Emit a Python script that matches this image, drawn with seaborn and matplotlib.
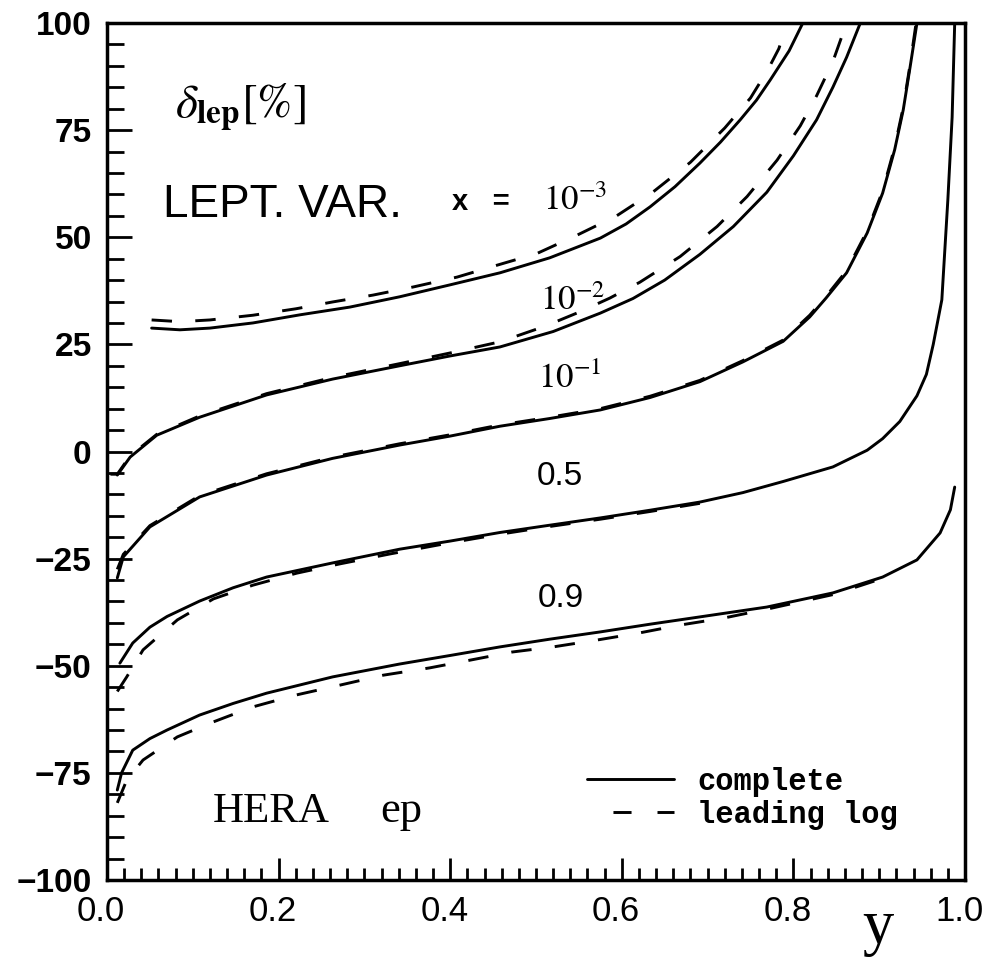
import matplotlib
matplotlib.use("Agg")
import matplotlib.pyplot as plt
import matplotlib.transforms as mtransforms
import seaborn as sns
import pandas as pd
from matplotlib.ticker import MultipleLocator

# ---------------- data ----------------
# x = 1e-3
x3_complete = [0.052, 0.085, 0.12, 0.17, 0.225, 0.283, 0.341, 0.40, 0.458, 0.516, 0.575, 0.605, 0.633, 0.662, 0.691, 0.715, 0.738, 0.757, 0.773, 0.795, 0.811]
d3_complete = [28.8, 28.4, 28.8, 30.0, 31.9, 33.7, 36.1, 38.9, 41.7, 45.2, 49.8, 53.1, 57.1, 61.8, 67.3, 72.2, 77.4, 82.0, 86.7, 93.5, 100.0]
x3_ll = [0.052, 0.085, 0.12, 0.17, 0.22, 0.263, 0.31, 0.357, 0.408, 0.455, 0.501, 0.548, 0.594, 0.636, 0.68, 0.72, 0.75, 0.77, 0.783, 0.793]
d3_ll = [30.7, 30.3, 30.7, 31.8, 33.3, 34.9, 36.5, 38.4, 40.7, 43.5, 46.2, 50.5, 55.0, 60.5, 67.5, 75.5, 82.5, 89.0, 94.0, 100.0]

# x = 1e-2
x2_complete = [0.012, 0.027, 0.058, 0.108, 0.186, 0.263, 0.341, 0.40, 0.458, 0.52, 0.575, 0.613, 0.65, 0.691, 0.73, 0.769, 0.80, 0.827, 0.846, 0.862, 0.878]
d2_complete = [-5.5, -1.3, 3.8, 8.0, 13.2, 16.9, 20.0, 22.3, 24.4, 28.0, 32.3, 35.7, 40.0, 46.0, 52.5, 60.5, 69.0, 77.4, 85.0, 92.0, 100.0]
x2_ll = [0.004, 0.012, 0.027, 0.058, 0.108, 0.186, 0.263, 0.341, 0.40, 0.458, 0.51, 0.55, 0.586, 0.621, 0.668, 0.711, 0.746, 0.781, 0.808, 0.827, 0.846, 0.862]
d2_ll = [-5.3, -5.3, -1.0, 4.0, 8.3, 13.5, 17.3, 20.5, 23.0, 25.6, 29.2, 32.5, 35.8, 39.5, 45.5, 52.5, 59.5, 68.0, 76.0, 83.0, 91.0, 100.0]

# x = 1e-1
x1_complete = [0.012, 0.019, 0.05, 0.108, 0.186, 0.263, 0.341, 0.40, 0.458, 0.516, 0.575, 0.633, 0.691, 0.741, 0.788, 0.819, 0.838, 0.862, 0.886, 0.904, 0.918, 0.928, 0.936, 0.944]
d1_complete = [-29.5, -24.6, -17.6, -10.6, -5.5, -1.6, 1.5, 3.6, 5.9, 7.7, 9.7, 12.6, 16.3, 20.9, 25.7, 31.4, 35.8, 41.7, 51.0, 60.3, 70.4, 79.7, 89.7, 100.0]
x1_ll = [0.012, 0.019, 0.05, 0.108, 0.186, 0.263, 0.341, 0.40, 0.458, 0.516, 0.575, 0.633, 0.691, 0.741, 0.788, 0.819, 0.838, 0.862, 0.886, 0.904, 0.918, 0.928, 0.936, 0.943]
d1_ll = [-27.5, -24.0, -17.3, -10.3, -5.2, -1.3, 1.8, 3.9, 6.2, 8.0, 10.0, 12.9, 16.6, 21.2, 26.0, 31.8, 36.2, 42.2, 51.5, 60.8, 71.0, 80.3, 90.3, 100.0]

# x = 0.5
x5_complete = [0.015, 0.03, 0.05, 0.07, 0.108, 0.147, 0.186, 0.263, 0.341, 0.40, 0.458, 0.516, 0.575, 0.633, 0.691, 0.741, 0.788, 0.846, 0.886, 0.904, 0.924, 0.944, 0.955, 0.963, 0.973, 0.980, 0.985, 0.988]
d5_complete = [-49.4, -44.7, -41.0, -38.5, -34.9, -31.8, -29.3, -26.0, -22.8, -20.9, -18.9, -17.2, -15.5, -13.7, -11.8, -9.6, -7.0, -3.6, 0.3, 3.0, 7.0, 13.0, 18.0, 25.0, 35.4, 58.7, 78.0, 100.0]
x5_ll = [0.012, 0.023, 0.042, 0.082, 0.124, 0.17, 0.221, 0.272, 0.33, 0.40, 0.458, 0.516, 0.575, 0.633, 0.691]
d5_ll = [-56.0, -52.6, -46.3, -39.3, -34.4, -31.2, -28.4, -26.2, -23.9, -21.3, -19.3, -17.5, -15.8, -14.0, -12.1]

# x = 0.9
x9_complete = [0.012, 0.017, 0.03, 0.05, 0.07, 0.108, 0.147, 0.186, 0.263, 0.341, 0.40, 0.458, 0.516, 0.575, 0.633, 0.691, 0.769, 0.846, 0.904, 0.944, 0.971, 0.983, 0.988]
d9_complete = [-79.0, -75.0, -69.7, -67.0, -65.0, -61.5, -58.8, -56.4, -52.6, -49.6, -47.6, -45.6, -43.8, -42.1, -40.3, -38.6, -36.3, -33.0, -29.3, -25.3, -19.0, -13.6, -8.3]
x9_ll = [0.012, 0.023, 0.042, 0.082, 0.124, 0.17, 0.221, 0.272, 0.322, 0.376, 0.423, 0.472, 0.52, 0.571, 0.619, 0.668, 0.718, 0.769, 0.846, 0.904]
d9_ll = [-82.0, -76.7, -72.0, -66.6, -63.1, -59.6, -56.8, -54.5, -52.2, -50.5, -48.7, -46.8, -45.6, -44.0, -42.4, -40.5, -38.9, -36.8, -33.4, -29.6]

kinds = ["complete", "leading log"]
x_ticks = [0.0, 0.2, 0.4, 0.6, 0.8, 1.0]
y_ticks = [-100, -75, -50, -25, 0, 25, 50, 75, 100]

series = [
    ("1e-3", "complete", x3_complete, d3_complete),
    ("1e-3", "leading log", x3_ll, d3_ll),
    ("1e-2", "complete", x2_complete, d2_complete),
    ("1e-2", "leading log", x2_ll, d2_ll),
    ("1e-1", "complete", x1_complete, d1_complete),
    ("1e-1", "leading log", x1_ll, d1_ll),
    ("0.5", "complete", x5_complete, d5_complete),
    ("0.5", "leading log", x5_ll, d5_ll),
    ("0.9", "complete", x9_complete, d9_complete),
    ("0.9", "leading log", x9_ll, d9_ll),
]
rows = []
for lab, kind, xs, ds in series:
    for a, b in zip(xs, ds):
        rows.append({"y": a, "delta": b, "curve": lab + " " + kind, "kind": kind})
df = pd.DataFrame(rows)

# ---------------- style ----------------
sns.set_style("white")
plt.rcParams["font.family"] = ["Liberation Sans", "DejaVu Sans"]
plt.rcParams["mathtext.fontset"] = "stix"
for k in ["text.color", "axes.labelcolor", "xtick.color", "ytick.color", "axes.edgecolor"]:
    plt.rcParams[k] = "black"

fig = plt.figure(figsize=(9.84, 9.58), dpi=100)
ax = fig.add_axes([107 / 984, 1 - 880 / 958, 858 / 984, 857 / 958])

sns.lineplot(data=df, x="y", y="delta", units="curve", style="kind",
             style_order=kinds, estimator=None, sort=False, color="black",
             lw=2.1, dashes={"complete": "", "leading log": (7, 8)}, ax=ax)

ax.set_xlim(0, 1)
ax.set_ylim(-100, 100)
ax.set_xticks(x_ticks)
ax.set_yticks(y_ticks)
ax.xaxis.set_minor_locator(MultipleLocator(0.02))
ax.yaxis.set_minor_locator(MultipleLocator(5))
ax.tick_params(which="both", direction="in", bottom=True, left=True, top=False, right=False,
               width=2, color="black", labelcolor="black")
ax.tick_params(axis="x", which="major", length=16, pad=11, labelsize=25)
ax.tick_params(axis="x", which="minor", length=9)
ax.tick_params(axis="y", which="major", length=18, pad=11, labelsize=24)
ax.tick_params(axis="y", which="minor", length=12)
for lab in ax.get_yticklabels():
    lab.set_fontweight("bold")
shift = mtransforms.ScaledTranslation(-6 / 100, 0, fig.dpi_scale_trans)
for lab in ax.get_xticklabels():
    lab.set_transform(lab.get_transform() + shift)
for sp in ax.spines.values():
    sp.set_linewidth(2.5)
    sp.set_color("black")

ax.set_ylabel("")
ax.set_xlabel("y", fontsize=45, family=["Liberation Serif", "DejaVu Serif"])
ax.xaxis.label.set_va("baseline")
ax.xaxis.set_label_coords(0.899, -0.0735)

# ---------------- annotations ----------------
ax.text(0.079, 77.8, r"$\delta_{\mathbf{lep}}[\%]$", fontsize=34, ha="left", va="baseline")
ax.text(0.065, 54.7, "LEPT. VAR.", fontsize=33, ha="left", va="baseline")
ax.text(0.402, 56.4, "x   =", fontsize=21, fontweight="bold", ha="left", va="baseline")
ax.text(0.508, 56.4, r"$10^{-3}$", fontsize=25, ha="left", va="baseline")
ax.text(0.505, 33.0, r"$10^{-2}$", fontsize=25, ha="left", va="baseline")
ax.text(0.502, 14.8, r"$10^{-1}$", fontsize=25, ha="left", va="baseline")
ax.text(0.501, -7.8, "0.5", fontsize=24, ha="left", va="baseline")
ax.text(0.502, -36.3, "0.9", fontsize=24, ha="left", va="baseline")
ax.text(0.1235, -86.5, "HERA", fontsize=31, ha="left", va="baseline",
        family=["Liberation Serif", "DejaVu Serif"])
ax.text(0.318, -86.5, "ep", fontsize=32, ha="left", va="baseline",
        family=["Liberation Serif", "DejaVu Serif"])

sns.move_legend(ax, loc="upper left", bbox_to_anchor=(0.5594, 0.132), frameon=False,
                title=None, borderaxespad=0, borderpad=0, handlelength=2.85,
                handletextpad=0.75, labelspacing=0.1,
                prop={"family": ["Liberation Mono", "DejaVu Sans Mono"], "weight": "bold", "size": 22})
leg_lines = ax.get_legend().get_lines()
leg_lines[1].set_linestyle((6.2, (6.2, 8.9)))

fig.savefig("out.png", dpi=100)
